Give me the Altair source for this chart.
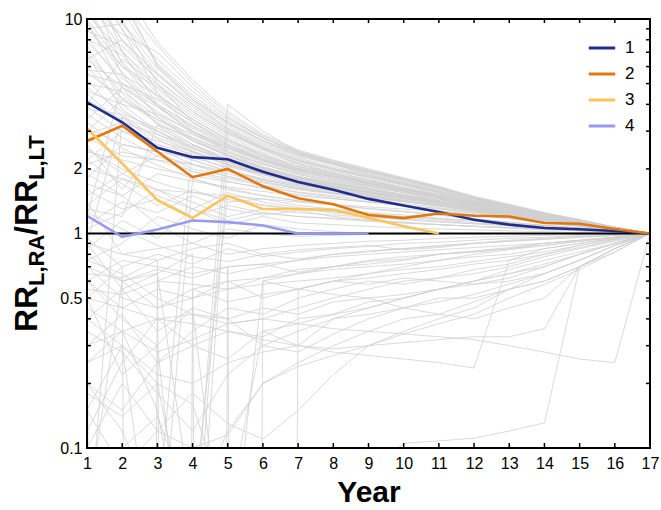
import altair as alt
import pandas as pd

YEARS = list(range(1, 18))

# Highlighted series
SERIES_NAMES = ["1", "2", "3", "4"]
SERIES_COLORS = ["#1f2e8c", "#e0780f", "#fcc55c", "#9a9af0"]
S1 = [4.09, 3.30, 2.51, 2.27, 2.22, 1.94, 1.74, 1.60, 1.45, 1.35, 1.26, 1.16, 1.10, 1.06, 1.046, 1.027, 1.0]
S2 = [2.70, 3.18, 2.41, 1.83, 2.00, 1.66, 1.46, 1.37, 1.22, 1.18, 1.24, 1.21, 1.20, 1.12, 1.11, 1.05, 1.0]
S3 = [3.09, 2.12, 1.43, 1.18, 1.50, 1.30, 1.30, 1.29, 1.18, 1.08, 1.0]
S4 = [1.21, 0.965, 1.045, 1.15, 1.13, 1.09, 1.0, 1.0, 1.0]

# Background (grey) trajectories, one list per trajectory, years 1..17
GREY_UPPER = [
    [17.3, 8.9, 5.6, 4.1, 3.19, 2.64, 2.29, 2.10, 1.92, 1.75, 1.61, 1.45, 1.34, 1.23, 1.15, 1.07, 1],
    [14.9, 7.9, 5.2, 3.8, 3.0, 2.5, 2.2, 2.0, 1.85, 1.71, 1.57, 1.42, 1.32, 1.22, 1.14, 1.06, 1],
    [12.8, 7.1, 4.7, 3.5, 2.83, 2.39, 2.10, 1.93, 1.79, 1.65, 1.53, 1.40, 1.30, 1.21, 1.13, 1.06, 1],
    [11.0, 6.3, 4.3, 3.3, 2.66, 2.27, 2.01, 1.86, 1.73, 1.61, 1.49, 1.37, 1.28, 1.19, 1.13, 1.06, 1],
    [9.5, 5.6, 3.9, 3.0, 2.5, 2.15, 1.93, 1.80, 1.67, 1.56, 1.45, 1.34, 1.26, 1.18, 1.12, 1.05, 1],
    [8.2, 5.0, 3.6, 2.8, 2.35, 2.04, 1.84, 1.73, 1.61, 1.51, 1.42, 1.32, 1.24, 1.17, 1.11, 1.05, 1],
    [7.0, 4.5, 3.25, 2.6, 2.2, 1.94, 1.77, 1.66, 1.56, 1.47, 1.38, 1.29, 1.22, 1.16, 1.10, 1.04, 1],
    [6.0, 4.0, 3.0, 2.43, 2.08, 1.84, 1.69, 1.60, 1.51, 1.43, 1.35, 1.27, 1.20, 1.14, 1.09, 1.04, 1],
    [4.5, 3.2, 2.5, 2.1, 1.84, 1.67, 1.55, 1.48, 1.41, 1.35, 1.28, 1.22, 1.17, 1.12, 1.08, 1.03, 1],
    [3.3, 2.5, 2.08, 1.8, 1.63, 1.5, 1.42, 1.36, 1.31, 1.27, 1.22, 1.17, 1.13, 1.09, 1.06, 1.03, 1],
    [2.46, 2.0, 1.73, 1.56, 1.44, 1.36, 1.30, 1.26, 1.23, 1.19, 1.16, 1.12, 1.10, 1.07, 1.05, 1.02, 1],
    [25, 11, 6.1, 4.3, 3.3, 2.72, 2.36, 2.14, 1.95, 1.79, 1.63, 1.47, 1.35, 1.24, 1.16, 1.07, 1],
    [30, 13, 6.0, 4.2, 3.25, 2.7, 2.33, 2.12, 1.94, 1.77, 1.62, 1.46, 1.35, 1.24, 1.15, 1.07, 1],
    [9.0, 9.5, 5.9, 4.2, 3.3, 2.7, 2.3, 2.1, 1.9, 1.74, 1.6, 1.45, 1.34, 1.23, 1.15, 1.07, 1],
    [6.5, 8.0, 5.5, 4.0, 3.1, 2.6, 2.25, 2.05, 1.88, 1.72, 1.58, 1.43, 1.33, 1.22, 1.14, 1.06, 1],
    [4.0, 6.5, 4.9, 3.7, 2.95, 2.5, 2.18, 2.0, 1.83, 1.68, 1.55, 1.41, 1.31, 1.21, 1.14, 1.06, 1],
    [20, 10, 5.0, 3.3, 2.6, 2.2, 1.95, 1.8, 1.68, 1.57, 1.47, 1.37, 1.28, 1.2, 1.13, 1.06, 1],
    [15, 9.0, 4.5, 3.0, 2.4, 2.05, 1.85, 1.72, 1.62, 1.52, 1.44, 1.35, 1.27, 1.19, 1.12, 1.06, 1],
    [10, 6.0, 4.8, 3.6, 2.9, 2.45, 2.12, 1.94, 1.78, 1.63, 1.52, 1.40, 1.30, 1.21, 1.13, 1.06, 1],
    [8.0, 6.8, 4.5, 3.4, 2.75, 2.35, 2.05, 1.89, 1.75, 1.62, 1.5, 1.39, 1.29, 1.2, 1.13, 1.06, 1],
    [5.5, 5.0, 4.0, 3.2, 2.6, 2.25, 2.0, 1.85, 1.72, 1.6, 1.49, 1.38, 1.28, 1.19, 1.12, 1.05, 1],
    [12, 5.5, 3.5, 2.7, 2.3, 2.0, 1.82, 1.7, 1.6, 1.5, 1.42, 1.33, 1.25, 1.18, 1.12, 1.05, 1],
    [18, 7.0, 4.0, 2.9, 2.4, 2.1, 1.9, 1.76, 1.65, 1.55, 1.45, 1.35, 1.27, 1.19, 1.12, 1.05, 1],
    [7.5, 4.2, 3.4, 2.9, 2.5, 2.2, 1.98, 1.84, 1.71, 1.59, 1.48, 1.37, 1.28, 1.19, 1.12, 1.05, 1],
    [5.0, 4.6, 3.5, 2.75, 2.3, 2.0, 1.8, 1.68, 1.57, 1.48, 1.4, 1.31, 1.23, 1.16, 1.1, 1.05, 1],
    [3.8, 3.6, 3.1, 2.6, 2.25, 1.98, 1.79, 1.67, 1.56, 1.47, 1.39, 1.3, 1.23, 1.16, 1.1, 1.04, 1],
    [6.8, 3.8, 2.9, 2.4, 2.1, 1.88, 1.72, 1.62, 1.53, 1.45, 1.37, 1.29, 1.22, 1.15, 1.1, 1.04, 1],
    [3.0, 4.2, 3.3, 2.7, 2.3, 2.02, 1.82, 1.7, 1.59, 1.5, 1.41, 1.32, 1.24, 1.17, 1.11, 1.05, 1],
    [2.2, 3.0, 2.7, 2.4, 2.15, 1.95, 1.78, 1.66, 1.56, 1.47, 1.39, 1.31, 1.23, 1.16, 1.1, 1.04, 1],
    [2.8, 2.3, 2.2, 2.1, 1.95, 1.8, 1.68, 1.6, 1.52, 1.45, 1.38, 1.3, 1.23, 1.16, 1.1, 1.04, 1],
    [1.8, 2.6, 2.4, 2.0, 1.85, 1.72, 1.62, 1.54, 1.47, 1.41, 1.35, 1.28, 1.21, 1.15, 1.09, 1.04, 1],
    [3.6, 2.8, 2.3, 1.95, 1.75, 1.62, 1.52, 1.46, 1.4, 1.35, 1.3, 1.24, 1.19, 1.13, 1.08, 1.04, 1],
    [1.5, 1.9, 2.3, 2.1, 1.9, 1.74, 1.62, 1.54, 1.47, 1.41, 1.35, 1.28, 1.22, 1.15, 1.09, 1.04, 1],
    [2.0, 1.8, 1.6, 1.55, 1.5, 1.45, 1.4, 1.37, 1.33, 1.3, 1.27, 1.22, 1.18, 1.13, 1.08, 1.03, 1],
    [11, 8.5, 7.0, 4.8, 3.5, 2.8, 2.35, 2.12, 1.94, 1.78, 1.63, 1.46, 1.35, 1.24, 1.15, 1.07, 1],
    [40, 12, 6.2, 4.4, 3.38, 2.78, 2.4, 2.18, 1.98, 1.81, 1.65, 1.48, 1.36, 1.25, 1.16, 1.07, 1],
    [1.2, 5.0, 4.2, 3.3, 2.7, 2.3, 2.05, 1.9, 1.76, 1.63, 1.51, 1.39, 1.29, 1.2, 1.12, 1.05, 1],
    [0.9, 3.5, 3.0, 2.55, 2.2, 1.95, 1.77, 1.66, 1.56, 1.47, 1.39, 1.3, 1.23, 1.16, 1.1, 1.04, 1],
    [2.6, 1.6, 2.6, 2.35, 2.1, 1.9, 1.74, 1.64, 1.55, 1.46, 1.38, 1.3, 1.22, 1.15, 1.09, 1.04, 1],
    [1.3, 1.2, 3.2, 2.8, 2.4, 2.1, 1.88, 1.75, 1.63, 1.52, 1.42, 1.33, 1.24, 1.16, 1.1, 1.04, 1],
    [22, 12, 7.5, 5.0, 3.6, 2.85, 2.42, 2.17, 1.96, 1.79, 1.63, 1.47, 1.35, 1.24, 1.15, 1.07, 1],
    [13, 8.0, 5.5, 4.0, 3.1, 2.55, 2.22, 2.02, 1.86, 1.71, 1.58, 1.44, 1.33, 1.23, 1.14, 1.07, 1],
    [10.5, 7.0, 5.0, 3.7, 2.95, 2.46, 2.15, 1.97, 1.82, 1.68, 1.55, 1.42, 1.32, 1.22, 1.14, 1.06, 1],
    [9.0, 6.0, 4.4, 3.4, 2.75, 2.33, 2.06, 1.9, 1.76, 1.63, 1.51, 1.39, 1.3, 1.21, 1.13, 1.06, 1],
    [7.8, 5.3, 4.0, 3.15, 2.6, 2.22, 1.98, 1.84, 1.71, 1.59, 1.48, 1.37, 1.28, 1.19, 1.12, 1.05, 1],
    [6.5, 4.8, 3.7, 2.95, 2.45, 2.12, 1.9, 1.77, 1.66, 1.55, 1.45, 1.35, 1.26, 1.18, 1.11, 1.05, 1],
    [5.6, 4.3, 3.4, 2.75, 2.32, 2.02, 1.83, 1.71, 1.61, 1.51, 1.42, 1.33, 1.25, 1.17, 1.11, 1.05, 1],
    [4.8, 3.7, 3.0, 2.5, 2.15, 1.9, 1.74, 1.64, 1.55, 1.46, 1.38, 1.3, 1.23, 1.16, 1.1, 1.04, 1],
    [4.2, 3.4, 2.75, 2.3, 2.0, 1.79, 1.65, 1.57, 1.49, 1.42, 1.35, 1.28, 1.21, 1.15, 1.09, 1.04, 1],
    [3.9, 3.0, 2.5, 2.2, 1.95, 1.76, 1.63, 1.55, 1.48, 1.41, 1.34, 1.27, 1.2, 1.14, 1.09, 1.04, 1],
    [16, 9.5, 6.5, 4.6, 3.45, 2.8, 2.38, 2.15, 1.96, 1.79, 1.64, 1.47, 1.35, 1.24, 1.15, 1.07, 1],
    [28, 14, 7.8, 5.2, 3.7, 2.9, 2.45, 2.2, 2.0, 1.82, 1.66, 1.49, 1.37, 1.25, 1.16, 1.07, 1],
    [8.8, 7.5, 5.2, 3.9, 3.05, 2.52, 2.18, 1.99, 1.83, 1.69, 1.56, 1.42, 1.32, 1.22, 1.14, 1.06, 1],
    [5.8, 5.5, 4.4, 3.4, 2.75, 2.3, 2.02, 1.87, 1.73, 1.61, 1.5, 1.38, 1.28, 1.19, 1.12, 1.05, 1],
    [3.4, 4.8, 3.9, 3.1, 2.55, 2.18, 1.94, 1.8, 1.68, 1.57, 1.46, 1.35, 1.26, 1.18, 1.11, 1.05, 1],
    [2.9, 3.3, 2.9, 2.5, 2.2, 1.98, 1.82, 1.7, 1.6, 1.5, 1.42, 1.32, 1.24, 1.17, 1.11, 1.05, 1],
    [2.4, 2.2, 2.0, 1.86, 1.74, 1.64, 1.56, 1.5, 1.44, 1.38, 1.32, 1.26, 1.2, 1.14, 1.09, 1.04, 1],
    [5.2, 3.5, 2.6, 2.2, 1.95, 1.78, 1.66, 1.58, 1.5, 1.43, 1.36, 1.29, 1.22, 1.15, 1.1, 1.04, 1],
    [9.8, 4.8, 3.2, 2.5, 2.15, 1.92, 1.76, 1.66, 1.57, 1.49, 1.41, 1.32, 1.24, 1.17, 1.11, 1.05, 1],
    [14, 6.2, 3.9, 3.0, 2.5, 2.18, 1.97, 1.83, 1.71, 1.6, 1.49, 1.38, 1.29, 1.2, 1.13, 1.06, 1],
    [2.1, 2.4, 2.2, 1.95, 1.8, 1.68, 1.6, 1.53, 1.47, 1.41, 1.35, 1.28, 1.21, 1.15, 1.09, 1.04, 1],
    [1.7, 1.5, 1.9, 1.75, 1.65, 1.57, 1.5, 1.45, 1.4, 1.35, 1.31, 1.25, 1.19, 1.13, 1.08, 1.04, 1],
    [3.1, 2.6, 2.4, 2.25, 2.05, 1.88, 1.74, 1.64, 1.56, 1.48, 1.41, 1.33, 1.25, 1.17, 1.11, 1.05, 1],
    [4.6, 4.0, 3.6, 3.0, 2.55, 2.22, 1.98, 1.83, 1.7, 1.58, 1.47, 1.36, 1.27, 1.18, 1.11, 1.05, 1],
]

GREY_MIDDLE = [
    [1.6, 1.3, 1.45, 1.2, 1.35, 1.25, 1.2, 1.18, 1.15, 1.12, 1.1, 1.08, 1.06, 1.05, 1.03, 1.02, 1],
    [1.1, 1.4, 1.25, 1.5, 1.3, 1.22, 1.28, 1.2, 1.16, 1.13, 1.1, 1.08, 1.07, 1.05, 1.03, 1.02, 1],
    [0.85, 1.15, 0.95, 1.3, 1.1, 1.2, 1.12, 1.1, 1.08, 1.06, 1.05, 1.04, 1.03, 1.02, 1.01, 1.0, 1],
    [1.9, 1.5, 1.1, 0.9, 1.05, 1.0, 0.97, 0.98, 0.99, 0.99, 1.0, 1.0, 1.0, 1.0, 1.0, 1.0, 1],
    [0.75, 0.9, 1.2, 1.05, 0.95, 1.1, 1.05, 1.02, 1.0, 1.0, 1.0, 1.0, 1.0, 1.0, 1.0, 1.0, 1],
    [1.4, 0.8, 0.85, 0.9, 0.8, 0.85, 0.88, 0.9, 0.92, 0.93, 0.95, 0.96, 0.97, 0.98, 0.99, 0.99, 1],
    [0.95, 0.7, 0.8, 0.72, 0.85, 0.78, 0.82, 0.85, 0.87, 0.9, 0.91, 0.93, 0.95, 0.96, 0.98, 0.99, 1],
    [1.25, 1.05, 0.88, 0.78, 0.74, 0.8, 0.76, 0.8, 0.83, 0.85, 0.88, 0.9, 0.92, 0.94, 0.96, 0.98, 1],
    [0.65, 0.62, 0.75, 0.85, 0.9, 0.8, 0.84, 0.86, 0.88, 0.84, 0.86, 0.9, 0.93, 0.95, 0.97, 0.98, 1],
    [0.8, 0.6, 0.68, 0.62, 0.7, 0.72, 0.66, 0.7, 0.75, 0.78, 0.8, 0.82, 0.85, 0.88, 0.92, 0.96, 1],
    [2.2, 1.7, 1.35, 1.6, 1.4, 1.45, 1.35, 1.3, 1.25, 1.22, 1.18, 1.15, 1.12, 1.09, 1.06, 1.03, 1],
    [1.35, 1.8, 1.5, 1.3, 1.55, 1.4, 1.32, 1.28, 1.24, 1.2, 1.17, 1.14, 1.11, 1.08, 1.05, 1.02, 1],
    [1.05, 1.25, 1.6, 1.4, 1.2, 1.3, 1.25, 1.22, 1.19, 1.16, 1.13, 1.11, 1.09, 1.07, 1.04, 1.02, 1],
    [2.5, 1.9, 1.6, 1.3, 1.15, 1.25, 1.2, 1.17, 1.14, 1.12, 1.1, 1.08, 1.06, 1.04, 1.03, 1.01, 1],
]

GREY_LOWER = [
    [0.55, 0.52, 0.6, 0.58, 0.55, 0.62, 0.65, 0.68, 0.7, 0.72, 0.75, 0.78, 0.8, 0.85, 0.9, 0.95, 1],
    [0.45, 0.35, 0.28, 0.32, 0.38, 0.4, 0.45, 0.5, 0.55, 0.6, 0.62, 0.65, 0.7, 0.78, 0.85, 0.92, 1],
    [0.3, 0.42, 0.25, 0.3, 0.35, 0.33, 0.4, 0.42, 0.48, 0.5, 0.55, 0.6, 0.65, 0.7, 0.8, 0.9, 1],
    [0.2, 0.15, 0.25, 0.35, 0.45, 0.42, 0.5, 0.55, 0.6, 0.58, 0.62, 0.68, 0.72, 0.8, 0.88, 0.94, 1],
    [0.35, 0.28, 0.18, 0.12, 0.22, 0.3, 0.28, 0.34, 0.4, 0.45, 0.5, 0.5, 0.55, 0.6, 0.7, 0.85, 1],
    [0.7, 0.5, 0.45, 0.55, 0.48, 0.52, 0.55, 0.6, 0.58, 0.62, 0.6, 0.58, 0.62, 0.7, 0.8, 0.9, 1],
    [0.6, 0.45, 0.55, 0.5, 0.6, 0.5, 0.55, 0.52, 0.5, 0.45, 0.42, 0.4, 0.45, 0.5, 0.7, 0.85, 1],
    [0.15, 0.08, 0.12, 0.1, 0.115, 0.2, 0.25, 0.3, 0.35, 0.4, 0.42, 0.48, 0.55, 0.65, 0.75, 0.88, 1],
    [0.1, 0.2, 0.12, 0.18, 0.13, 0.11, 0.15, 0.22, 0.3, 0.35, 0.4, 0.45, 0.55, 0.6, 0.7, 0.85, 1],
    [0.02, 0.03, 0.04, 0.05, 0.06, 0.07, 0.08, 0.09, 0.08, 0.105, 0.108, 0.111, 0.12, 0.131, 0.7, 0.85, 1],
    [0.3, 0.35, 0.4, 0.38, 0.35, 0.32, 0.3, 0.28, 0.27, 0.26, 0.25, 0.236, 0.75, 0.85, 0.9, 0.95, 1],
    [0.5, 0.45, 0.4, 0.42, 0.38, 0.4, 0.38, 0.36, 0.35, 0.34, 0.33, 0.32, 0.3, 0.28, 0.26, 0.25, 1],
    [0.25, 0.3, 0.22, 0.2, 0.25, 0.28, 0.3, 0.29, 0.3, 0.31, 0.32, 0.33, 0.33, 0.36, 0.7, 0.82, 1],
    [0.8, 1e-30, 0.6, 0.7, 0.65, 0.7, 0.75, 0.78, 0.8, 0.82, 0.84, 0.86, 0.88, 0.9, 0.93, 0.96, 1],
    [0.5, 0.7, 1e-30, 0.55, 0.6, 0.62, 0.68, 0.7, 0.74, 0.76, 0.8, 0.83, 0.86, 0.9, 0.93, 0.96, 1],
    [0.9, 0.8, 0.75, 1e-30, 0.7, 0.72, 0.75, 0.8, 0.82, 0.85, 0.87, 0.9, 0.92, 0.94, 0.96, 0.98, 1],
    [0.7, 0.6, 0.65, 0.8, 1e-30, 0.6, 0.65, 0.7, 0.72, 0.75, 0.8, 0.82, 0.85, 0.9, 0.93, 0.96, 1],
    [0.6, 0.75, 0.7, 0.65, 0.7, 1e-30, 0.55, 0.6, 0.65, 0.7, 0.75, 0.8, 0.84, 0.88, 0.92, 0.96, 1],
    [0.4, 0.3, 0.2, 0.03, 4.0, 3.0, 2.4, 2.1, 1.88, 1.7, 1.55, 1.42, 1.31, 1.21, 1.13, 1.06, 1],
    [0.25, 0.35, 0.15, 0.02, 3.0, 2.5, 2.1, 1.9, 1.72, 1.58, 1.46, 1.36, 1.27, 1.19, 1.12, 1.05, 1],
    [0.6, 0.4, 0.3, 0.01, 2.2, 1.9, 1.7, 1.6, 1.5, 1.42, 1.35, 1.28, 1.21, 1.14, 1.09, 1.04, 1],
    [0.2, 0.12, 0.05, 2.6, 2.2, 1.95, 1.78, 1.66, 1.56, 1.47, 1.39, 1.3, 1.23, 1.16, 1.1, 1.04, 1],
    [0.15, 0.3, 0.02, 1.8, 1.6, 1.5, 1.42, 1.36, 1.3, 1.26, 1.22, 1.17, 1.13, 1.09, 1.06, 1.03, 1],
    [0.05, 0.6, 0.45, 0.5, 0.55, 0.58, 0.6, 0.62, 0.65, 0.68, 0.7, 0.74, 0.78, 0.82, 0.88, 0.94, 1],
    [0.03, 3.5, 2.8, 2.4, 2.1, 1.9, 1.74, 1.63, 1.54, 1.46, 1.38, 1.3, 1.23, 1.16, 1.1, 1.04, 1],
    [0.12, 0.25, 0.4, 0.3, 0.26, 0.35, 0.38, 0.42, 0.45, 0.5, 0.55, 0.6, 0.65, 0.72, 0.8, 0.9, 1],
    [0.18, 0.14, 0.2, 0.16, 0.05, 0.35, 0.3, 0.4, 0.45, 0.5, 0.55, 0.6, 0.68, 0.75, 0.82, 0.9, 1],
    [0.4, 0.55, 0.35, 0.45, 0.4, 0.3, 0.35, 0.4, 0.42, 0.45, 0.48, 0.52, 0.58, 0.65, 0.75, 0.88, 1],
    [0.08, 0.1, 0.14, 0.05, 0.12, 0.2, 0.24, 0.27, 0.3, 0.34, 0.38, 0.42, 0.5, 0.58, 0.68, 0.82, 1],
    [0.75, 0.65, 0.5, 0.42, 0.4, 0.45, 0.42, 0.48, 0.5, 0.52, 0.55, 0.58, 0.6, 0.65, 0.75, 0.88, 1],
    [0.5, 0.22, 0.3, 0.45, 0.02, 0.6, 0.55, 0.6, 0.62, 0.65, 0.68, 0.72, 0.75, 0.8, 0.86, 0.93, 1],
    [0.9, 0.55, 0.65, 0.05, 1.5, 1.35, 1.3, 1.25, 1.2, 1.17, 1.14, 1.11, 1.09, 1.06, 1.04, 1.02, 1],
]

Y_LABELS = [0.1, 0.5, 1, 2, 10]
Y_MINOR = [0.2, 0.3, 0.4, 0.5, 0.6, 0.7, 0.8, 0.9, 2, 3, 4, 5, 6, 7, 8, 9]
REF_LEVEL = [1]
X_DOMAIN = [1, 17]
Y_DOMAIN = [0.1, 10]

FONT = "Liberation Sans"
W, H = 563, 429

# ---- tables ----
grey_rows = []
lid = 0
for group in (GREY_UPPER, GREY_MIDDLE, GREY_LOWER):
    for line in group:
        for yr, v in zip(YEARS, line):
            grey_rows.append({"year": yr, "value": v, "line": lid})
        lid += 1
grey_df = pd.DataFrame(grey_rows)

col_rows = []
for name, vals in zip(SERIES_NAMES, [S1, S2, S3, S4]):
    for yr, v in zip(YEARS, vals):
        col_rows.append({"year": yr, "value": v, "series": name})
col_df = pd.DataFrame(col_rows)

# frame (closed outline of the scale domain) and inward ticks, drawn as line marks
x0, x1 = X_DOMAIN
y0, y1 = Y_DOMAIN
frame_df = pd.DataFrame({"fx": [x0, x1, x1, x0, x0], "fy": [y0, y0, y1, y1, y0], "k": range(5)})

px_per_year = W / (x1 - x0)
decades_per_px = 2.0 / H          # log domain spans two decades
tick_rows = []
tid = 0
for yr in YEARS:   # bottom (5 px) and top (4 px) ticks
    tick_rows += [{"tx": yr, "ty": y0, "id": tid, "k": 0},
                  {"tx": yr, "ty": y0 * 10 ** (5 * decades_per_px), "id": tid, "k": 1}]
    tid += 1
    tick_rows += [{"tx": yr, "ty": y1, "id": tid, "k": 0},
                  {"tx": yr, "ty": y1 / 10 ** (4 * decades_per_px), "id": tid, "k": 1}]
    tid += 1
for v in Y_MINOR:  # left and right ticks (4 px)
    tick_rows += [{"tx": x0, "ty": v, "id": tid, "k": 0},
                  {"tx": x0 + 4 / px_per_year, "ty": v, "id": tid, "k": 1}]
    tid += 1
    tick_rows += [{"tx": x1, "ty": v, "id": tid, "k": 0},
                  {"tx": x1 - 4 / px_per_year, "ty": v, "id": tid, "k": 1}]
    tid += 1
tick_df = pd.DataFrame(tick_rows)

xscale = alt.Scale(domain=X_DOMAIN, nice=False, zero=False)
yscale = alt.Scale(type="log", domain=Y_DOMAIN, nice=False)

xaxis = alt.Axis(values=YEARS, format="d", title="Year", grid=False, ticks=False, domain=False,
                 labelFontSize=16, labelFont=FONT, labelColor="black", labelPadding=7,
                 labelFlush=False, labelOverlap=False, titleFontSize=30, titleFontWeight="bold",
                 titleFont=FONT, titleColor="black", titlePadding=6)
yaxis = alt.Axis(values=Y_LABELS, format="~g", title=None, grid=False, ticks=False, domain=False,
                 labelFontSize=16, labelFont=FONT, labelColor="black", labelPadding=5,
                 labelFlush=False, labelOverlap=False)

X = lambda f: alt.X(f, scale=xscale, axis=xaxis)
Y = lambda f: alt.Y(f, scale=yscale, axis=yaxis)

grey = alt.Chart(grey_df).mark_line(color="#d0d0d0", strokeWidth=0.8, clip=True).encode(
    x=X("year:Q"), y=Y("value:Q"), detail="line:N",
)

ref = alt.Chart(pd.DataFrame({"v": REF_LEVEL})).mark_rule(color="black", strokeWidth=2).encode(
    y=Y("v:Q")
)

colored = alt.Chart(col_df).mark_line(strokeWidth=2.6, clip=True).encode(
    x=X("year:Q"), y=Y("value:Q"),
    color=alt.Color("series:N", scale=alt.Scale(domain=SERIES_NAMES, range=SERIES_COLORS),
                    legend=alt.Legend(title=None, orient="none", legendX=500, legendY=14,
                                      symbolType="stroke", symbolSize=700, symbolStrokeWidth=3,
                                      labelFontSize=17, labelFont=FONT, labelColor="black",
                                      rowPadding=3, padding=0, labelOffset=8)),
)

frame = alt.Chart(frame_df).mark_line(color="black", strokeWidth=2, strokeCap="square").encode(
    x=X("fx:Q"), y=Y("fy:Q"), order="k:Q"
)

ticks = alt.Chart(tick_df).mark_line(color="black", strokeWidth=1.5).encode(
    x=X("tx:Q"), y=Y("ty:Q"), detail="id:N", order="k:Q"
)

# y-axis title with subscripts: RR_{L,RA}/RR_{L,LT}
TITLE_PARTS = ["RR", "L,RA", "/", "RR", "L,LT"]
def tpart(text, y, x, size):
    return alt.Chart(pd.DataFrame({"t": [text]})).mark_text(
        angle=270, align="left", baseline="alphabetic", font=FONT, fontWeight="bold",
        fontSize=size, color="black").encode(text="t:N", x=alt.value(x), y=alt.value(y))

title_layers = [
    tpart(TITLE_PARTS[0], 313, -50, 32),
    tpart(TITLE_PARTS[1], 267, -43, 22),
    tpart(TITLE_PARTS[2], 216, -50, 32),
    tpart(TITLE_PARTS[3], 207, -50, 32),
    tpart(TITLE_PARTS[4], 161, -43, 22),
]

chart = alt.layer(grey, ref, colored, ticks, frame, *title_layers).properties(
    width=W, height=H,
    autosize=alt.AutoSizeParams(type="none"),
    padding={"left": 87, "top": 19, "right": 11, "bottom": 62},
).configure_view(stroke=None)

chart.save("out.html", embed_options={"renderer": "svg", "actions": False})
